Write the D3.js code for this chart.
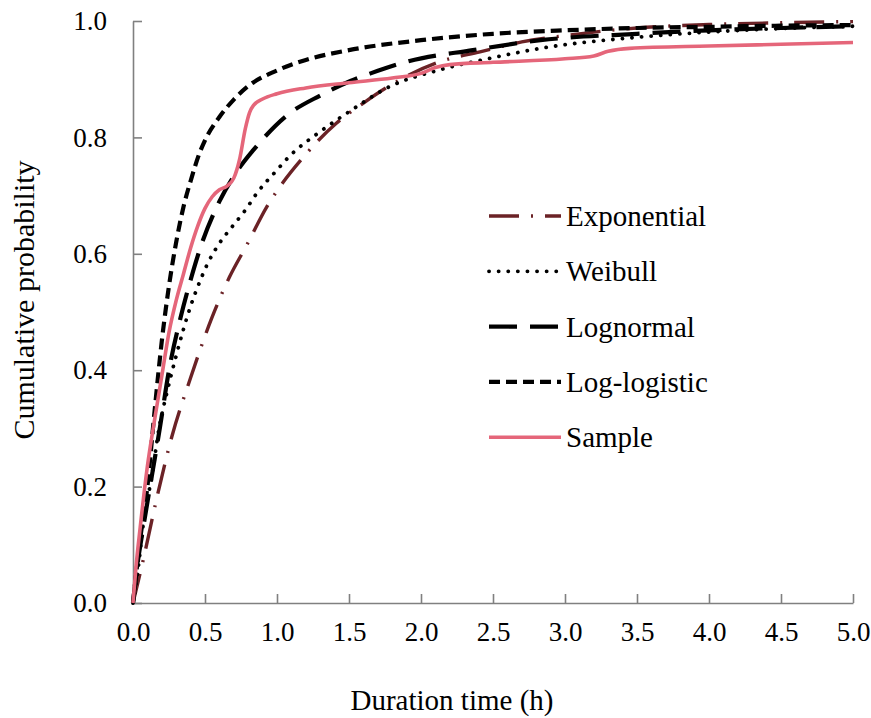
<!DOCTYPE html>
<html>
<head>
<meta charset="utf-8">
<script src="https://cdn.jsdelivr.net/npm/d3@7"></script>
<style>
  body { margin: 0; background: #fff; }
  text { font-family: "Liberation Serif", "Times New Roman", serif; fill: #000; }
</style>
</head>
<body>
<svg id="chart"></svg>
<script>
const width = 871, height = 718;
const margin = { top: 21, right: 18, bottom: 115, left: 133 };

// valores (duración en h, probabilidad acumulada)
const expX = [0, 0.072, 0.165, 0.27, 0.40, 0.546, 0.67, 0.79, 0.93, 1.04, 1.19, 1.28, 1.41, 1.6, 1.77, 2.13, 2.41, 2.7, 3.0, 3.5, 4.0, 4.5, 5.0];
const expY = [0, 0.075, 0.18, 0.286, 0.387, 0.489, 0.56, 0.615, 0.681, 0.722, 0.768, 0.793, 0.824, 0.859, 0.887, 0.93, 0.947, 0.964, 0.975, 0.988, 0.994, 0.997, 0.999];

const weiX = [0, 0.037, 0.072, 0.13, 0.183, 0.234, 0.3, 0.35, 0.4, 0.465, 0.52, 0.6, 0.69, 0.78, 0.86, 1.0, 1.08, 1.3, 1.5, 1.78, 2.13, 2.48, 2.83, 3.5, 4.0, 4.5, 5.0];
const weiY = [0, 0.062, 0.137, 0.217, 0.303, 0.36, 0.425, 0.47, 0.51, 0.553, 0.584, 0.618, 0.647, 0.675, 0.704, 0.744, 0.766, 0.81, 0.844, 0.887, 0.916, 0.936, 0.953, 0.972, 0.981, 0.987, 0.991];

const lnX = [0, 0.026, 0.072, 0.13, 0.188, 0.25, 0.33, 0.40, 0.47, 0.6, 0.74, 0.835, 1.07, 1.3, 1.51, 1.65, 1.9, 2.36, 2.83, 3.5, 4.0, 4.5, 5.0];
const lnY = [0, 0.057, 0.131, 0.217, 0.303, 0.40, 0.49, 0.555, 0.612, 0.69, 0.748, 0.778, 0.838, 0.872, 0.897, 0.91, 0.93, 0.95, 0.967, 0.978, 0.984, 0.988, 0.991];

const llX = [0, 0.05, 0.1, 0.15, 0.2, 0.25, 0.3, 0.35, 0.4, 0.465, 0.5, 0.6, 0.7, 0.8, 1.0, 1.2, 1.5, 2.0, 2.5, 3.0, 3.5, 4.0, 4.5, 5.0];
const llY = [0, 0.11, 0.2, 0.33, 0.45, 0.545, 0.62, 0.68, 0.725, 0.775, 0.795, 0.835, 0.865, 0.888, 0.915, 0.933, 0.95, 0.967, 0.978, 0.984, 0.988, 0.99, 0.992, 0.993];

const smpX = [0, 0.02, 0.05, 0.1, 0.15, 0.2, 0.25, 0.3, 0.35, 0.4, 0.45, 0.5, 0.55, 0.6, 0.65, 0.7, 0.74, 0.78, 0.81, 0.84, 0.9, 1.0, 1.2, 1.5, 1.8, 2.0, 2.1, 2.2, 2.5, 3.0, 3.2, 3.3, 3.45, 4.0, 4.5, 5.0];
const smpY = [0, 0.06, 0.13, 0.235, 0.315, 0.39, 0.465, 0.52, 0.565, 0.61, 0.648, 0.678, 0.698, 0.71, 0.716, 0.73, 0.762, 0.815, 0.843, 0.856, 0.866, 0.875, 0.885, 0.894, 0.902, 0.91, 0.92, 0.925, 0.929, 0.935, 0.94, 0.948, 0.953, 0.957, 0.96, 0.963];

const xTicks = [0, 0.5, 1, 1.5, 2, 2.5, 3, 3.5, 4, 4.5, 5];
const yTicks = [0, 0.2, 0.4, 0.6, 0.8, 1.0];

const seriesNames = ["Exponential", "Weibull", "Lognormal", "Log-logistic", "Sample"];
const seriesData = [[expX, expY], [weiX, weiY], [lnX, lnY], [llX, llY], [smpX, smpY]];

const styles = {
    "Exponential": { color: "#6b2226", w: 3.4, dash: "30,12,2,12", cap: "butt" },
    "Weibull": { color: "#000", w: 3.8, dash: "0.1,9.5", cap: "round" },
    "Lognormal": { color: "#000", w: 4.2, dash: "28,13", cap: "butt" },
    "Log-logistic": { color: "#000", w: 4.2, dash: "11,6", cap: "butt" },
    "Sample": { color: "#e5667a", w: 3.6, dash: null, cap: "butt" }
};

const svg = d3.select("#chart")
    .attr("width", width)
    .attr("height", height);

const x = d3.scaleLinear().domain([0, 5]).range([margin.left, width - margin.right]);
const y = d3.scaleLinear().domain([0, 1]).range([height - margin.bottom, margin.top]);

// ejes
const xAxis = svg.append("g")
    .attr("transform", `translate(0,${y(0)})`)
    .call(d3.axisBottom(x).tickValues(xTicks).tickFormat(d3.format(".1f")).tickSize(-9).tickSizeOuter(0).tickPadding(19));
const yAxis = svg.append("g")
    .attr("transform", `translate(${x(0)},0)`)
    .call(d3.axisLeft(y).tickValues(yTicks).tickFormat(d3.format(".1f")).tickSize(-9).tickSizeOuter(0).tickPadding(26));

[xAxis, yAxis].forEach(g => {
    g.selectAll("path, line").attr("stroke", "#808080").attr("stroke-width", 1.6);
    g.selectAll("text").style("font-size", "27px").style("font-family", "Liberation Serif, serif");
});

svg.append("text")
    .attr("x", 452).attr("y", 710)
    .attr("text-anchor", "middle")
    .style("font-size", "29px")
    .text("Duration time (h)");

svg.append("text")
    .attr("transform", "translate(34,300) rotate(-90)")
    .attr("text-anchor", "middle")
    .style("font-size", "30px")
    .text("Cumulative probability");

const line = d3.line()
    .x(d => x(d[0]))
    .y(d => y(d[1]))
    .curve(d3.curveMonotoneX);

seriesNames.forEach((name, i) => {
    const [xs, ys] = seriesData[i];
    const pts = xs.map((v, j) => [v, ys[j]]);
    const s = styles[name];
    svg.append("path")
        .datum(pts)
        .attr("d", line)
        .attr("fill", "none")
        .attr("stroke", s.color)
        .attr("stroke-width", s.w)
        .attr("stroke-linecap", s.cap)
        .attr("stroke-dasharray", s.dash);
});

// leyenda
const legend = svg.append("g").attr("transform", "translate(489,216)");
seriesNames.forEach((name, i) => {
    const s = styles[name];
    const row = legend.append("g").attr("transform", `translate(0,${i * 55.3})`);
    row.append("line")
        .attr("x1", 0).attr("x2", 72)
        .attr("y1", 0).attr("y2", 0)
        .attr("stroke", s.color)
        .attr("stroke-width", s.w)
        .attr("stroke-linecap", s.cap)
        .attr("stroke-dasharray", s.dash);
    row.append("text")
        .attr("x", 77).attr("y", 10)
        .style("font-size", "29px")
        .text(name);
});
</script>
</body>
</html>
